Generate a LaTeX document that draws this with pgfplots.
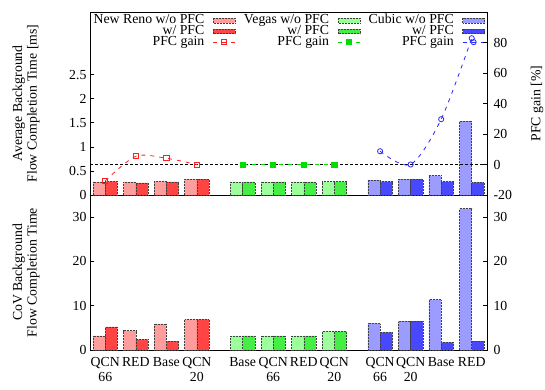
\documentclass[border=0pt]{standalone}
\usepackage{fontspec}
\setmainfont{Liberation Serif}
\usepackage{pgfplots}
\pgfplotsset{compat=1.18}
\definecolor{rlight}{HTML}{FF9C9C}
\definecolor{rdark}{HTML}{FF4444}
\definecolor{glight}{HTML}{9CFF9C}
\definecolor{gdark}{HTML}{44EE44}
\definecolor{blight}{HTML}{9C9CFF}
\definecolor{bdark}{HTML}{4848FF}
\definecolor{rline}{HTML}{FF2020}
\definecolor{gline}{HTML}{00DD00}
\definecolor{bline}{HTML}{2828FF}
\newcommand{\ff}{\fontsize{13.8}{14.5}\selectfont}
\pgfplotsset{
  barleg/.style={legend image code/.code={\draw[##1] (0pt,-2.4pt) rectangle (22pt,2.4pt);}},
  lineleg/.style={legend image code/.code={\draw[mark repeat=2,mark phase=2,##1] plot coordinates {(0pt,0pt)(11pt,0pt)(22pt,0pt)};}},
  mybar/.style={ybar, bar width=0.4, draw=black!75, densely dotted, line width=0.5pt, barleg},
  base/.style={
    scale only axis, width=397pt,
    xmin=-0.5, xmax=12.5,
    font=\ff,
    tick label style={font=\ff},
    label style={font=\ff},
    /pgf/number format/assume math mode=true,
    tick align=inside, major tick length=4pt,
    axis line style={line width=0.9pt},
    every tick/.style={black, line width=0.6pt},
    xtick style={draw=none},
    ylabel style={align=center},
  },
}
\begin{document}
\begin{tikzpicture}[font=\ff]
\path[use as bounding box] (-90pt,-39pt) rectangle (455pt,350pt);

% ---------------- bottom: CoV ----------------
\begin{axis}[base, at={(0,0)}, anchor=south west, height=155pt,
  ymin=0, ymax=35, ytick={0,10,20,30}, ytick pos=left,
  xtick={0,1,2,3,4.5,5.5,6.5,7.5,9,10,11,12},
  xticklabels={{QCN\\66},RED,Base,{QCN\\20},Base,{QCN\\66},RED,{QCN\\20},{QCN\\66},{QCN\\20},Base,RED},
  xticklabel style={align=center, yshift=-4pt, text depth=0pt},
  ylabel={CoV Background\\Flow Completion Time},
  ylabel style={at={(axis description cs:-0.161,0.5)}, anchor=center},
]
\addplot[mybar, bar shift=-0.2, fill=rlight] coordinates {(0,3.2) (1,4.4) (2,5.9) (3,6.9)};
\addplot[mybar, bar shift=0.2, fill=rdark] coordinates {(0,5.2) (1,2.4) (2,2.0) (3,6.9)};
\addplot[mybar, bar shift=-0.2, fill=glight] coordinates {(4.5,3.2) (5.5,3.2) (6.5,3.2) (7.5,4.2)};
\addplot[mybar, bar shift=0.2, fill=gdark] coordinates {(4.5,3.2) (5.5,3.2) (6.5,3.2) (7.5,4.2)};
\addplot[mybar, bar shift=-0.2, fill=blight] coordinates {(9,6.0) (10,6.5) (11,11.4) (12,31.9)};
\addplot[mybar, bar shift=0.2, fill=bdark] coordinates {(9,4.0) (10,6.5) (11,1.7) (12,2.0)};
\end{axis}
\begin{axis}[base, at={(0,0)}, anchor=south west, height=155pt,
  ymin=0, ymax=35, ytick={0,10,20,30},
  axis y line*=right, axis x line=none, xtick=\empty,
  yticklabel style={xshift=3pt},
]
\addplot[draw=none] coordinates {(0,0)};
\end{axis}

% ---------------- top: average FCT ----------------
\begin{axis}[base, at={(0,155pt)}, anchor=south west, height=183pt,
  ymin=0, ymax=3.8, ytick={0,0.5,1,1.5,2,2.5}, ytick pos=left,
  xtick=\empty,
  ylabel={Average Background\\Flow Completion Time [ms]},
  ylabel style={at={(axis description cs:-0.161,0.5)}, anchor=center},
  legend columns=3,
  legend style={at={(rel axis cs:0.0,0.995)}, anchor=north west, draw=none, fill=none,
    font=\ff,
    legend plot pos=right, cells={anchor=east},
    nodes={inner sep=0.4pt, text height=8pt, text depth=2pt},
    /tikz/every odd column/.style={column sep=8pt},
    /tikz/every even column/.style={column sep=8pt}},
]
\addplot[mybar, bar shift=-0.2, fill=rlight] coordinates {(0,0.27) (1,0.27) (2,0.285) (3,0.33)};
\addlegendentry{New Reno w/o PFC}
\addplot[mybar, bar shift=-0.2, fill=glight] coordinates {(4.5,0.27) (5.5,0.27) (6.5,0.27) (7.5,0.28)};
\addlegendentry{Vegas w/o PFC}
\addplot[mybar, bar shift=-0.2, fill=blight] coordinates {(9,0.31) (10,0.33) (11,0.40) (12,1.535)};
\addlegendentry{Cubic w/o PFC}
\addplot[mybar, bar shift=0.2, fill=rdark] coordinates {(0,0.285) (1,0.25) (2,0.27) (3,0.33)};
\addlegendentry{w/ PFC}
\addplot[mybar, bar shift=0.2, fill=gdark] coordinates {(4.5,0.27) (5.5,0.27) (6.5,0.27) (7.5,0.28)};
\addlegendentry{w/ PFC}
\addplot[mybar, bar shift=0.2, fill=bdark] coordinates {(9,0.28) (10,0.33) (11,0.28) (12,0.26)};
\addlegendentry{w/ PFC}
\addlegendimage{lineleg, rline, line width=0.8pt, dash pattern=on 4pt off 5pt, mark=square, mark size=2.6pt, mark options={solid}}
\addlegendentry{PFC gain}
\addlegendimage{lineleg, gline, line width=0.8pt, dash pattern=on 4pt off 5pt, mark=square*, mark size=2.6pt, mark options={solid}}
\addlegendentry{PFC gain}
\addlegendimage{lineleg, bline, line width=0.8pt, dash pattern=on 4pt off 5pt, mark=o, mark size=2.6pt, mark options={solid}}
\addlegendentry{PFC gain}
\end{axis}
\begin{axis}[base, at={(0,155pt)}, anchor=south west, height=183pt,
  ymin=-20, ymax=100, ytick={-20,0,20,40,60,80},
  axis y line*=right, axis x line=none, xtick=\empty,
  yticklabel style={xshift=3pt},
  ylabel={PFC gain [\%]},
  ylabel style={at={(axis description cs:1.126,0.5)}, anchor=center, rotate=0},
]
\addplot[black, line width=0.6pt, dash pattern=on 3pt off 2pt] coordinates {(-0.5,0) (12.5,0)};
\addplot[rline, line width=0.8pt, dash pattern=on 4pt off 5pt, smooth, mark=square, mark size=2.6pt, mark options={solid}] coordinates {(0,-10.7) (1,5.4) (2,4.1) (3,0)};
\addplot[gline, line width=0.8pt, dash pattern=on 4pt off 5pt, mark=square*, mark size=2.6pt, mark options={solid}] coordinates {(4.5,0) (5.5,0) (6.5,0) (7.5,0)};
\addplot[bline, line width=0.8pt, dash pattern=on 4pt off 5pt, smooth, mark=o, mark size=2.6pt, mark options={solid}] coordinates {(9,8.7) (10,0) (11,29.7) (12,82.8)};
\end{axis}
\end{tikzpicture}
\end{document}
